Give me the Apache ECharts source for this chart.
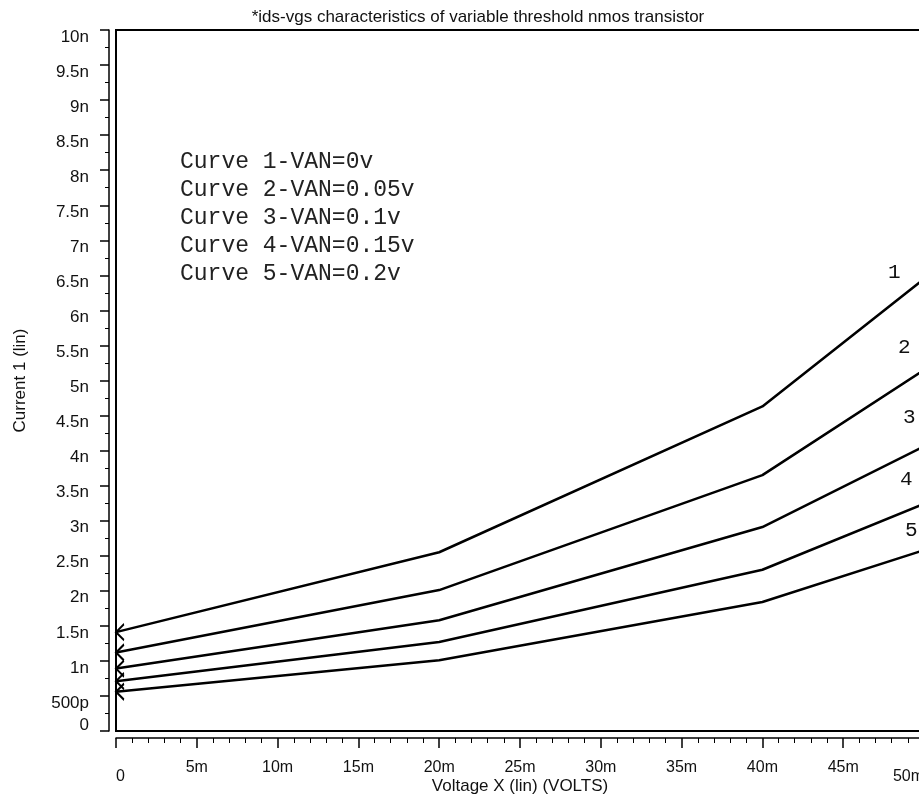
<!DOCTYPE html>
<html>
<head>
<meta charset="utf-8">
<script src="https://cdn.jsdelivr.net/npm/echarts@6/dist/echarts.min.js"></script>
<style>
  html, body { margin: 0; padding: 0; background: #fff; }
  #main { width: 919px; height: 802px; }
</style>
</head>
<body>
<div id="main"></div>
<script>
// sweep points, in mV
const voltages = [0, 20, 40, 50];
// drain current per curve, in nA
const curve1 = [1.41, 2.55, 4.63, 6.45];
const curve2 = [1.12, 2.01, 3.65, 5.15];
const curve3 = [0.89, 1.58, 2.91, 4.06];
const curve4 = [0.71, 1.27, 2.30, 3.24];
const curve5 = [0.56, 1.01, 1.84, 2.58];
const curveNames = [
  "Curve 1-VAN=0v",
  "Curve 2-VAN=0.05v",
  "Curve 3-VAN=0.1v",
  "Curve 4-VAN=0.15v",
  "Curve 5-VAN=0.2v",
];
const curveTags = ["1", "2", "3", "4", "5"];

const curves = [curve1, curve2, curve3, curve4, curve5];
// where the little number sits, relative to the end of the line
const tagOffsets = [[-44, -6], [-34, -23], [-29, -29], [-32, -24], [-27, -20]];

const sansFont = "'Liberation Sans', Arial, sans-serif";
const monoFont = "'Liberation Mono', 'Courier New', monospace";
const chevron = "path://M10,0 L0,10 L10,20";

var chartDom = document.getElementById("main");
var myChart = echarts.init(chartDom, null, { renderer: "canvas" });

var series = curves.map((vals, i) => ({
  name: curveNames[i],
  type: "line",
  data: vals.map((v, k) => [voltages[k], v]),
  symbol: (value, params) => (params.dataIndex === 0 ? chevron : "none"),
  symbolSize: [8, 16],
  symbolOffset: [4, 0],
  symbolKeepAspect: false,
  itemStyle: { color: "none", borderColor: "#000", borderWidth: 1.8 },
  lineStyle: { color: "#000", width: 2.5 },
  color: "#000",
  silent: true,
  animation: false,
  endLabel: {
    show: true,
    formatter: curveTags[i],
    offset: tagOffsets[i],
    fontFamily: monoFont,
    fontSize: 21,
    color: "#111",
  },
}));

var option = {
  backgroundColor: "#fff",
  animation: false,
  title: {
    text: "*ids-vgs characteristics of variable threshold nmos transistor",
    left: 473,
    textAlign: "center",
    top: 4,
    textStyle: { fontFamily: sansFont, fontSize: 17, fontWeight: "normal", color: "#111" },
  },
  legend: {
    orient: "vertical",
    left: 170,
    top: 145,
    icon: "none",
    itemWidth: 0,
    itemHeight: 23,
    itemGap: 5,
    selectedMode: false,
    data: curveNames,
    textStyle: { fontFamily: monoFont, fontSize: 23, color: "#222" },
  },
  grid: {
    left: 116,
    right: -5,
    top: 30,
    bottom: 71,
    show: true,
    borderColor: "#000",
    borderWidth: 2,
    containLabel: false,
    outerBoundsMode: "none",
  },
  xAxis: {
    type: "value",
    min: 0,
    max: 50,
    interval: 5,
    offset: 7,
    name: "Voltage X (lin) (VOLTS)",
    nameLocation: "middle",
    nameGap: 40,
    nameMoveOverlap: false,
    nameTextStyle: { fontFamily: sansFont, fontSize: 17, color: "#111" },
    splitLine: { show: false },
    axisLine: { show: true, onZero: false, lineStyle: { color: "#000", width: 1.5 } },
    axisTick: { show: true, length: 10, lineStyle: { color: "#000", width: 1.5 } },
    minorTick: { show: true, splitNumber: 5, length: 5, lineStyle: { color: "#000", width: 1 } },
    axisLabel: {
      margin: 22,
      fontFamily: sansFont,
      fontSize: 16,
      color: "#111",
      hideOverlap: false,
      alignMinLabel: "left",
      alignMaxLabel: "right",
      formatter: (v) => (v === 0 ? "{low|0}" : v === 50 ? "{low|50m}" : v + "m"),
      rich: { low: { fontFamily: sansFont, fontSize: 16, color: "#111", padding: [9, 0, 0, 0] } },
    },
  },
  yAxis: {
    type: "value",
    min: 0,
    max: 10,
    interval: 0.5,
    offset: 7,
    name: "Current 1 (lin)",
    nameLocation: "middle",
    nameGap: 80,
    nameMoveOverlap: false,
    nameTextStyle: { fontFamily: sansFont, fontSize: 17, color: "#111" },
    splitLine: { show: false },
    axisLine: { show: true, onZero: false, lineStyle: { color: "#000", width: 1.5 } },
    axisTick: { show: true, length: 9, lineStyle: { color: "#000", width: 1.5 } },
    minorTick: { show: true, splitNumber: 2, length: 4, lineStyle: { color: "#000", width: 1 } },
    axisLabel: {
      margin: 20,
      fontFamily: sansFont,
      fontSize: 17,
      color: "#111",
      padding: [14, 0, 0, 0],
      formatter: (v) => (v === 0 ? "{up|0}" : v < 1 ? Math.round(v * 1000) + "p" : v + "n"),
      rich: { up: { fontFamily: sansFont, fontSize: 17, color: "#111", padding: [0, 0, 26, 0] } },
    },
  },
  series: series,
};

option && myChart.setOption(option);
</script>
</body>
</html>
